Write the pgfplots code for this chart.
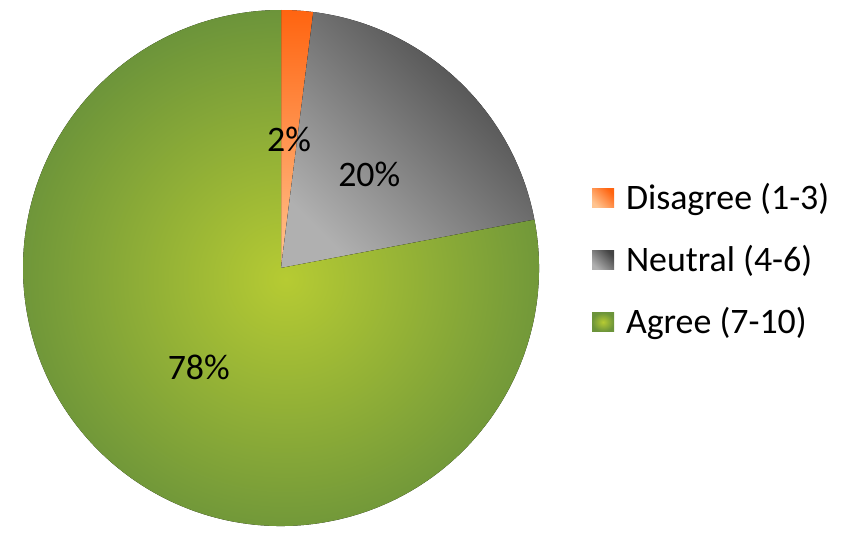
\documentclass[border=0pt]{standalone}
\usepackage{fontspec}
\setmainfont{Carlito}
\usepackage{pgfplots}
\usepackage{pgfplotstable}
\pgfplotsset{compat=1.18}
\definecolor{orD}{HTML}{FF6410}
\definecolor{orL}{HTML}{FFC490}
\definecolor{grD}{HTML}{444444}
\definecolor{grL}{HTML}{B0B0B0}
\definecolor{gnC}{HTML}{B6CB33}
\definecolor{gnE}{HTML}{6C943A}

\pgfplotstableread[col sep=comma]{
label,value
Disagree (1-3),2
Neutral (4-6),20
Agree (7-10),78
}\piedata

\begin{document}
\begin{tikzpicture}
\pgfplotstablegetelem{0}{value}\of\piedata \pgfmathsetmacro\vA{\pgfplotsretval}
\pgfplotstablegetelem{1}{value}\of\piedata \pgfmathsetmacro\vB{\pgfplotsretval}
\pgfplotstablegetelem{2}{value}\of\piedata \pgfmathsetmacro\vC{\pgfplotsretval}
\pgfmathsetmacro\aS{90}
\pgfmathsetmacro\aA{\aS-3.6*\vA}
\pgfmathsetmacro\aB{\aA-3.6*\vB}
\pgfmathsetmacro\aC{\aB-3.6*\vC}
\pgfmathsetmacro\lxA{281+129*cos((\aS+\aA)/2)}
\pgfmathsetmacro\lyA{258+129*sin((\aS+\aA)/2)}
\pgfmathsetmacro\lxB{281+129*cos((\aA+\aB)/2)}
\pgfmathsetmacro\lyB{258+129*sin((\aA+\aB)/2)}
\pgfmathsetmacro\lxC{281+129*cos((\aB+\aC)/2)}
\pgfmathsetmacro\lyC{258+129*sin((\aB+\aC)/2)}
\begin{axis}[
  width=852bp, height=526bp, scale only axis,
  xmin=0, xmax=852, ymin=0, ymax=526,
  hide axis, clip=false,
  legend cell align=left,
  legend style={draw=none, fill=none, inner sep=0pt, outer sep=0pt,
    at={(axis cs:592,266)}, anchor=west,
    font=\fontsize{36}{42}\selectfont,
    nodes={inner sep=0pt, text height=30bp, text depth=7.4bp},
    row sep=24.6bp,
    /tikz/every odd column/.style={column sep=12bp}},
]
\path (axis cs:0,0) rectangle (axis cs:852,526);
% slices
\fill[top color=orD, bottom color=orL]
  (axis cs:281,258) -- ++(\aS:258bp) arc[start angle=\aS, end angle=\aA, radius=258bp] -- cycle;
\fill[top color=grD, bottom color=grL, shading angle=-45]
  (axis cs:281,258) -- ++(\aA:258bp) arc[start angle=\aA, end angle=\aB, radius=258bp] -- cycle;
\fill[inner color=gnC, outer color=gnE]
  (axis cs:281,258) -- ++(\aB:258bp) arc[start angle=\aB, end angle=\aC, radius=258bp] -- cycle;
% labels
\node[font=\fontsize{36}{42}\selectfont] at (axis cs:\lxA,\lyA) {2\%};
\node[font=\fontsize{36}{42}\selectfont] at (axis cs:\lxB,\lyB) {20\%};
\node[font=\fontsize{36}{42}\selectfont] at (axis cs:\lxC,\lyC) {78\%};
% legend
\addlegendimage{legend image code/.code={\path[draw=none, top color=orD, bottom color=orL, shading angle=-45] (0bp,-9.5bp) rectangle (22bp,9.5bp);}}
\addlegendentry{Disagree (1-3)}
\addlegendimage{legend image code/.code={\path[draw=none, top color=grD, bottom color=grL, shading angle=-45] (0bp,-9.5bp) rectangle (22bp,9.5bp);}}
\addlegendentry{Neutral (4-6)}
\addlegendimage{legend image code/.code={\path[draw=none, inner color=gnC, outer color=gnE] (0bp,-9.5bp) rectangle (22bp,9.5bp);}}
\addlegendentry{Agree (7-10)}
\end{axis}
\end{tikzpicture}
\end{document}
